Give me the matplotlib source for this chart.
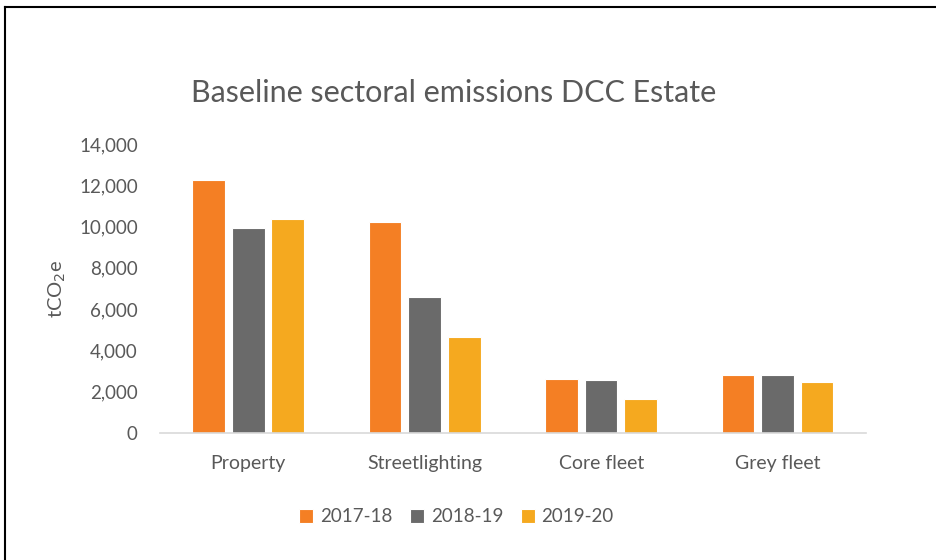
import matplotlib.pyplot as plt
from matplotlib.lines import Line2D
import numpy as np

plt.rcParams['font.family'] = ['Lato', 'DejaVu Sans']

# Data
sectors = ["Property", "Streetlighting", "Core fleet", "Grey fleet"]
years = ["2017-18", "2018-19", "2019-20"]
em_2017 = [12250, 10200, 2600, 2820]
em_2018 = [9950, 6600, 2560, 2820]
em_2019 = [10350, 4650, 1640, 2480]

colors = ["#F47F24", "#6A6A6A", "#F5A91F"]
text_col = "#595959"

fig = plt.figure(figsize=(9.37, 5.6), dpi=100)
ax = fig.add_axes([0.1708, 0.2268, 0.7532, 0.5162])

x = np.arange(len(sectors))
step = 0.224
for i, (vals, lab) in enumerate(zip([em_2017, em_2018, em_2019], years)):
    ax.bar(x + (i - 1) * step, vals, width=0.185, color=colors[i],
           edgecolor="white", linewidth=0.8, label=lab, zorder=2)

ax.set_xlim(-0.5, len(sectors) - 0.5)
ax.set_ylim(0, 14000)
ax.set_yticks(range(0, 14001, 2000))
ax.set_yticklabels([f"{v:,}" for v in range(0, 14001, 2000)])
ax.set_xticks(x)
ax.set_xticklabels(sectors)
ax.tick_params(axis='both', length=0, labelsize=13.5, colors=text_col)
ax.tick_params(axis='y', pad=16)
ax.tick_params(axis='x', pad=16, labelsize=14)

for s in ["top", "right", "left"]:
    ax.spines[s].set_visible(False)
ax.spines["bottom"].set_color("#D9D9D9")
ax.spines["bottom"].set_linewidth(1.2)

ax.set_ylabel("tCO$_2$e", fontsize=14.5, color=text_col, labelpad=8)

fig.text(0.484, 0.834, "Baseline sectoral emissions DCC Estate",
         fontsize=22, color=text_col, ha="center", va="center")

ax.legend(loc="center", bbox_to_anchor=(0.42, -0.29), ncol=3, frameon=False,
          fontsize=13.5, labelcolor=text_col, handlelength=0.75, handleheight=0.75,
          handletextpad=0.35, columnspacing=0.95)

# frame of the original picture (left and top edges)
fig.add_artist(Line2D([0.005, 0.005], [0, 0.988], color="black", linewidth=1.5))
fig.add_artist(Line2D([0.005, 1], [0.988, 0.988], color="black", linewidth=1.5))

fig.savefig("out.png", dpi=100)
